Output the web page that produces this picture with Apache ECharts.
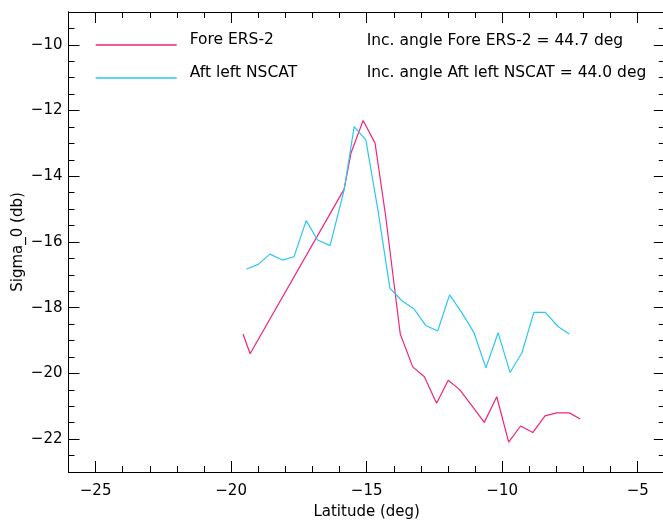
<!DOCTYPE html>
<html>
<head>
<meta charset="utf-8">
<script src="https://cdn.jsdelivr.net/npm/echarts@6/dist/echarts.min.js"></script>
<style>html,body{margin:0;padding:0;background:#fff;}#c{width:663px;height:520px;}</style>
</head>
<body>
<div id="c"></div>
<script>
// Data
var ersLat = [-19.56, -19.30, -15.83, -15.58, -15.13, -14.69, -14.30, -13.76, -13.30, -12.87, -12.42, -11.99, -11.56, -11.10, -10.66, -10.20, -9.76, -9.32, -8.87, -8.42, -7.99, -7.52, -7.12];
var ersSigma = [-18.80, -19.40, -14.39, -13.30, -12.30, -12.99, -15.20, -18.80, -19.80, -20.10, -20.91, -20.21, -20.50, -21.00, -21.49, -20.71, -22.09, -21.60, -21.80, -21.29, -21.20, -21.20, -21.39];
var nscatLat = [-19.43, -19.00, -18.57, -18.11, -17.68, -17.23, -16.81, -16.35, -15.83, -15.46, -15.03, -14.59, -14.14, -13.71, -13.25, -12.82, -12.38, -11.94, -11.49, -11.04, -10.60, -10.15, -9.71, -9.27, -8.83, -8.41, -7.93, -7.52];
var nscatSigma = [-16.82, -16.68, -16.37, -16.55, -16.45, -15.35, -15.94, -16.11, -14.41, -12.49, -12.89, -15.00, -17.41, -17.78, -18.04, -18.54, -18.71, -17.61, -18.15, -18.76, -19.83, -18.76, -19.97, -19.37, -18.14, -18.14, -18.58, -18.80];
var xTicks = [-25, -20, -15, -10, -5];
var yTicks = [-22, -20, -18, -16, -14, -12, -10];
var seriesNames = ['Fore ERS-2', 'Aft left NSCAT'];
var angleNotes = ['Inc. angle Fore ERS-2 = 44.7 deg', 'Inc. angle Aft left NSCAT = 44.0 deg'];
var xName = 'Latitude (deg)';
var yName = 'Sigma_0 (db)';

var FONT = 'DejaVu Sans';
function fmt(v) { return String(v).replace('-', '\u2212'); }
function pairs(xs, ys) { return xs.map(function (x, i) { return [x, ys[i]]; }); }

var black = '#000';
function xAx(pos, major, withLabels) {
  var a = {
    type: 'value', min: -26, max: -4, position: pos,
    axisLine: { show: true, lineStyle: { color: black, width: 1 } },
    splitLine: { show: false },
    axisTick: { show: true, inside: true, length: major ? 11 : 6, lineStyle: { color: black } },
    axisLabel: { show: false }
  };
  if (major) {
    a.axisTick.customValues = xTicks;
    a.axisLabel = withLabels ? { show: true, customValues: xTicks, formatter: fmt, color: black, fontFamily: FONT, fontSize: 15, margin: 12 } : { show: false, customValues: xTicks };
  } else {
    a.interval = 1;
  }
  if (withLabels) {
    a.name = xName; a.nameLocation = 'middle'; a.nameGap = 33;
    a.nameTextStyle = { color: black, fontFamily: FONT, fontSize: 15 };
  }
  return a;
}
function yAx(pos, major, withLabels) {
  var a = {
    type: 'value', min: -23, max: -9, position: pos,
    axisLine: { show: true, lineStyle: { color: black, width: 1 } },
    splitLine: { show: false },
    axisTick: { show: true, inside: true, length: major ? 11 : 6, lineStyle: { color: black } },
    axisLabel: { show: false }
  };
  if (major) {
    a.axisTick.customValues = yTicks;
    a.axisLabel = withLabels ? { show: true, customValues: yTicks, formatter: fmt, color: black, fontFamily: FONT, fontSize: 15, margin: 6 } : { show: false, customValues: yTicks };
  } else {
    a.interval = 0.5;
  }
  if (withLabels) {
    a.name = yName; a.nameLocation = 'middle'; a.nameGap = 43; a.nameMoveOverlap = false;
    a.nameTextStyle = { color: black, fontFamily: FONT, fontSize: 15 };
  }
  return a;
}

var chart = echarts.init(document.getElementById('c'), null, { renderer: 'canvas' });
chart.setOption({
  animation: false,
  backgroundColor: '#fff',
  grid: { left: 68.5, top: 12, width: 596.3, height: 460, containLabel: false, outerBoundsMode: 'none' },
  xAxis: [xAx('bottom', false, false), xAx('bottom', true, true), xAx('top', false, false), xAx('top', true, false)],
  yAxis: [yAx('left', false, false), yAx('left', true, true), yAx('right', false, false), yAx('right', true, false)],
  legend: {
    orient: 'vertical', left: 95.7, top: 32, padding: 0,
    icon: 'rect', itemWidth: 81, itemHeight: 1.3, itemGap: 7,
    formatter: function (name) { return '{t|' + name + '}'; },
    textStyle: {
      color: black, fontFamily: FONT, fontSize: 15.5,
      rich: { t: { color: black, fontFamily: FONT, fontSize: 15.5, lineHeight: 16, padding: [0, 0, 10, 8] } }
    },
    data: seriesNames
  },
  graphic: [
    { type: 'text', left: 366.7, top: 32.8, style: { text: angleNotes[0], fill: black, font: '15.5px "DejaVu Sans"' } },
    { type: 'text', left: 366.7, top: 65.3, style: { text: angleNotes[1], fill: black, font: '15.5px "DejaVu Sans"' } }
  ],
  series: [
    { name: seriesNames[0], type: 'line', xAxisIndex: 0, yAxisIndex: 0, data: pairs(ersLat, ersSigma), symbol: 'none', color: '#f0247c', lineStyle: { width: 1.2, color: '#f0247c' } },
    { name: seriesNames[1], type: 'line', xAxisIndex: 0, yAxisIndex: 0, data: pairs(nscatLat, nscatSigma), symbol: 'none', color: '#2cc6f6', lineStyle: { width: 1.2, color: '#2cc6f6' } }
  ]
});
</script>
</body>
</html>
